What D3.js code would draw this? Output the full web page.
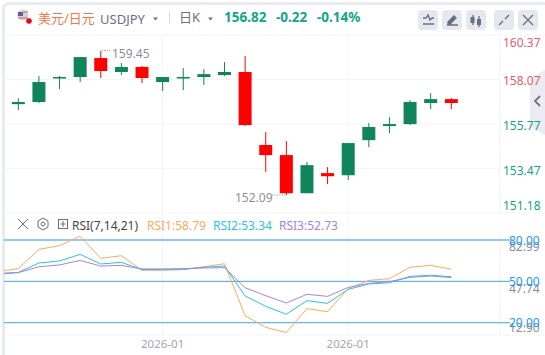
<!DOCTYPE html>
<html>
<head>
<meta charset="utf-8">
<script src="https://cdnjs.cloudflare.com/ajax/libs/d3/7.8.5/d3.min.js"></script>
<style>
    html, body { margin: 0; padding: 0; background: #fff; }
    svg { display: block; }
    text { font-family: "Noto Sans", "Noto Sans CJK SC", sans-serif; }
</style>
</head>
<body>
<svg width="545" height="355"></svg>
<script>
// candles, oldest first
const opens  = [156.80, 156.91, 158.15, 158.20, 159.18, 158.46, 158.72, 157.94, 158.15, 158.20, 158.30, 158.46, 154.69, 154.17, 152.20, 153.24, 153.13, 154.94, 155.67, 155.77, 156.86, 157.06];
const highs  = [157.10, 158.25, 158.25, 159.23, 159.54, 158.92, 158.77, 158.20, 158.66, 158.61, 158.97, 159.28, 155.36, 154.89, 153.81, 153.55, 154.79, 155.82, 156.13, 157.01, 157.37, 157.11];
const lows   = [156.49, 156.86, 157.58, 157.94, 158.15, 158.30, 157.89, 157.48, 157.53, 157.79, 158.25, 155.67, 153.29, 152.10, 152.20, 152.67, 152.88, 154.58, 155.30, 155.72, 156.55, 156.55];
const closes = [156.91, 157.94, 158.20, 159.23, 158.51, 158.72, 158.15, 158.20, 158.20, 158.35, 158.46, 155.72, 154.17, 152.20, 153.65, 153.08, 154.79, 155.62, 155.77, 156.91, 157.06, 156.86];

// RSI has one more leading value, the candle just left of the view
const rsi1 = [57.1, 59.2, 73.2, 75.9, 82.7, 66.7, 68.6, 58.0, 58.0, 58.5, 60.6, 62.8, 25.1, 16.6, 12.9, 30.2, 28.0, 44.7, 50.7, 51.9, 60.2, 61.6, 58.79];
const rsi2 = [55.7, 56.5, 63.3, 64.8, 69.6, 62.6, 63.8, 58.5, 58.7, 58.7, 60.2, 61.1, 39.4, 31.9, 26.1, 36.0, 34.0, 44.2, 48.1, 49.0, 53.6, 54.4, 53.34];
const rsi3 = [55.2, 56.3, 60.6, 61.9, 65.2, 61.1, 61.6, 59.0, 59.0, 59.2, 59.7, 59.9, 45.4, 39.6, 34.3, 40.6, 39.1, 45.6, 48.5, 49.8, 52.9, 53.9, 52.73];

const priceTicks = [160.37, 158.07, 155.77, 153.47, 151.18];
const rsiLevels = [80, 50, 20];
const rsiScaleLabels = [82.99, 47.74, 12.90];
const dateTicks = [7, 16];
const dateLabels = ["2026-01", "2026-01"];

const red = "#ff0000", green = "#10845a", gridColor = "#f3f4f8", teal = "#13a58a", salmon = "#e2616d";
const svg = d3.select("svg");

const x = d3.scaleLinear().domain([0, 21]).range([18.3, 451.3]);
const y = d3.scaleLinear().domain([151.18, 160.37]).range([213, 35]);
const yRsi = d3.scaleLinear().domain([20, 80]).range([322.7, 240]);

// frame
svg.append("path")
    .attr("d", "M3.5,355V9Q3.5,3.5,9,3.5H545")
    .attr("fill", "none").attr("stroke", "#e4e8ef").attr("stroke-width", 2.5);
[35, 213, 335].forEach(v => svg.append("line")
    .attr("x1", 4).attr("x2", 545).attr("y1", v).attr("y2", v)
    .attr("stroke", gridColor).attr("stroke-width", 1));
svg.append("line").attr("x1", 499.5).attr("x2", 499.5).attr("y1", 35).attr("y2", 213)
    .attr("stroke", gridColor);
svg.append("line").attr("x1", 499.5).attr("x2", 499.5).attr("y1", 230).attr("y2", 335)
    .attr("stroke", gridColor);

// side tab, the price labels run over it
svg.append("path").attr("d", "M545,70L530,78V127L545,135Z").attr("fill", "#ebebf1");
svg.append("path").attr("d", "M540,96l-5,5l5,5").attr("fill", "none").attr("stroke", "#70737f").attr("stroke-width", 1.8);

// grid
const grid = svg.append("g").attr("stroke", gridColor);
grid.selectAll(".h").data(priceTicks.slice(1, 4)).enter().append("line")
    .attr("x1", 4).attr("x2", 499).attr("y1", d => y(d)).attr("y2", d => y(d));
grid.selectAll(".v").data(dateTicks).enter().append("line")
    .attr("x1", d => x(d)).attr("x2", d => x(d)).attr("y1", 35).attr("y2", 335);

// candles
const candles = opens.map((o, i) => ({ i, o, h: highs[i], l: lows[i], c: closes[i] }));
const candle = svg.append("g").selectAll("g").data(candles).enter().append("g")
    .attr("fill", d => d.c >= d.o ? green : red)
    .attr("stroke", d => d.c >= d.o ? green : red);
candle.append("line")
    .attr("x1", d => x(d.i)).attr("x2", d => x(d.i))
    .attr("y1", d => y(d.h)).attr("y2", d => y(d.l))
    .attr("stroke-width", 1);
candle.append("rect")
    .attr("stroke", "none")
    .attr("x", d => x(d.i) - 6.5).attr("width", 13)
    .attr("y", d => y(Math.max(d.o, d.c)))
    .attr("height", d => Math.max(1.5, Math.abs(y(d.o) - y(d.c))));

// high / low notes
const noteColor = "#8b8e99";
svg.append("text").attr("x", 112).attr("y", 58).attr("font-size", 12).attr("fill", noteColor).text("159.45");
svg.append("line").attr("x1", x(4) + 1).attr("x2", 110).attr("y1", 50.5).attr("y2", 50.5)
    .attr("stroke", noteColor).attr("stroke-dasharray", "1,1.5");
svg.append("text").attr("x", 235).attr("y", 202).attr("font-size", 12).attr("fill", noteColor).text("152.09");
svg.append("line").attr("x1", 272).attr("x2", x(13) - 1).attr("y1", 195).attr("y2", 195)
    .attr("stroke", noteColor).attr("stroke-dasharray", "1,1.5");

// price axis
const priceDy = [7, 1, 1, 2, -8];
svg.append("g").selectAll("text").data(priceTicks).enter().append("text")
    .attr("x", 503).attr("y", d => y(d))
    .attr("dy", (d, i) => priceDy[i] + 4.5)
    .attr("font-size", 12)
    .attr("fill", d => d > 156.82 ? salmon : teal)
    .text(d => d.toFixed(2));

// RSI levels
svg.append("g").selectAll("line").data(rsiLevels).enter().append("line")
    .attr("x1", 4).attr("x2", 510)
    .attr("y1", d => yRsi(d)).attr("y2", d => yRsi(d))
    .attr("stroke", (d, i) => i === 0 ? "#90caf9" : "#42a5f5")
    .attr("stroke-width", (d, i) => i === 0 ? 2 : 1);

// RSI lines
svg.append("clipPath").attr("id", "plot").append("rect")
    .attr("x", 4).attr("y", 225).attr("width", 495).attr("height", 110);
const rsiLine = d3.line().x((d, i) => x(i - 1)).y(d => yRsi(d));
const rsiSeries = [[rsi1, "#ffa95c"], [rsi2, "#2cc3dd"], [rsi3, "#a384e6"]];
svg.append("g").attr("clip-path", "url(#plot)").selectAll("path").data(rsiSeries).enter().append("path")
    .attr("d", d => rsiLine(d[0]))
    .attr("fill", "none").attr("stroke", d => d[1]).attr("stroke-width", 1);

// RSI axis, grey scale labels sit under the blue level labels
const rsiDy = [11, 4, -5];
svg.append("g").selectAll("text").data(rsiScaleLabels).enter().append("text")
    .attr("x", 509).attr("y", d => yRsi(d))
    .attr("dy", (d, i) => rsiDy[i] + 4.5)
    .attr("font-size", 12).attr("fill", "#8b8e99")
    .text(d => d.toFixed(2));
svg.append("g").selectAll("text").data(rsiLevels).enter().append("text")
    .attr("x", 509).attr("y", d => yRsi(d)).attr("dy", 4.5)
    .attr("font-size", 12).attr("fill", "#2196f3")
    .text(d => d.toFixed(2));

// dates
svg.append("g").selectAll("text").data(dateTicks).enter().append("text")
    .attr("x", d => x(d)).attr("y", 348)
    .attr("text-anchor", "middle").attr("font-size", 11.5).attr("fill", "#a3a6b4")
    .text((d, i) => dateLabels[i]);

// header
svg.append("circle").attr("cx", 23).attr("cy", 15).attr("r", 5.5).attr("fill", "#d9d4dc");
svg.append("path").attr("d", "M18,12H23V16H18Z").attr("fill", "#5a5f8c");
svg.append("path").attr("d", "M23,12H28M18,18H28").attr("stroke", "#d0606c").attr("stroke-width", 1.2);
svg.append("circle").attr("cx", 29).attr("cy", 21).attr("r", 2.8).attr("fill", "#f5000f");
svg.append("text").attr("x", 38).attr("y", 23).attr("font-size", 13).attr("fill", "#f4764a").text("美元/日元");
svg.append("text").attr("x", 100).attr("y", 24).attr("font-size", 13).attr("fill", "#6b6f80").text("USDJPY");
svg.append("path").attr("d", "M153,17.5h5l-2.5,3z").attr("fill", "#6b6f80");
svg.append("line").attr("x1", 169.5).attr("x2", 169.5).attr("y1", 12).attr("y2", 24).attr("stroke", "#d6d8e0");
svg.append("text").attr("x", 179).attr("y", 22).attr("font-size", 13).attr("fill", "#6b6f80").text("日K");
svg.append("path").attr("d", "M208,17.5h5l-2.5,3z").attr("fill", "#6b6f80");
svg.append("text").attr("x", 224).attr("y", 22).attr("font-size", 13.5).attr("font-weight", 700).attr("fill", teal).text("156.82");
svg.append("text").attr("x", 276).attr("y", 22).attr("font-size", 13.5).attr("font-weight", 700).attr("fill", teal).text("-0.22");
svg.append("text").attr("x", 317).attr("y", 22).attr("font-size", 13.5).attr("font-weight", 700).attr("fill", teal).text("-0.14%");

// toolbar buttons
const buttonLefts = [418, 442, 466, 494, 518];
const btn = svg.append("g").selectAll("g").data(buttonLefts).enter().append("g")
    .attr("transform", d => `translate(${d},10)`);
btn.append("rect").attr("width", 20).attr("height", 20).attr("rx", 4).attr("fill", "#e6e8ef");
const icons = [
    "M5,8h3l2,-3l2,5l2,-2h2M5,14h11",
    "M5,15h11M6,12l6,-6l2,2l-6,6h-2z",
    "M7,5v10M13,6v11",
    "M5,15l4,-4M15,5l-4,4",
    "M5,5l10,10M15,5l-10,10"
];
btn.append("path").attr("d", (d, i) => icons[i])
    .attr("fill", (d, i) => i === 1 ? "#6a6d7c" : "none")
    .attr("stroke", "#6a6d7c").attr("stroke-width", 1.3);
svg.append("rect").attr("x", 470.5).attr("y", 17).attr("width", 4).attr("height", 6).attr("fill", "#6a6d7c");
svg.append("rect").attr("x", 477).attr("y", 19).attr("width", 4).attr("height", 6).attr("fill", "#6a6d7c");

// RSI header
svg.append("path").attr("d", "M18,219l10,10M28,219l-10,10").attr("stroke", "#6a6d7c").attr("fill", "none");
svg.append("path").attr("d", "M43,218l5,3v6l-5,3l-5,-3v-6z").attr("stroke", "#6a6d7c").attr("fill", "none");
svg.append("circle").attr("cx", 43).attr("cy", 224).attr("r", 2).attr("stroke", "#6a6d7c").attr("fill", "none");
svg.append("rect").attr("x", 58.5).attr("y", 219.5).attr("width", 9).attr("height", 9).attr("stroke", "#6a6d7c").attr("fill", "none");
svg.append("path").attr("d", "M63,221v6M60.5,224h5").attr("stroke", "#6a6d7c");
const rsiHeader = [["RSI(7,14,21)", 72, "#444"], ["RSI1:58.79", 147, "#ffa95c"], ["RSI2:53.34", 213, "#2cc3dd"], ["RSI3:52.73", 279, "#a384e6"]];
svg.append("g").selectAll("text").data(rsiHeader).enter().append("text")
    .attr("x", d => d[1]).attr("y", 230).attr("font-size", 12).attr("fill", d => d[2]).text(d => d[0]);
</script>
</body>
</html>
